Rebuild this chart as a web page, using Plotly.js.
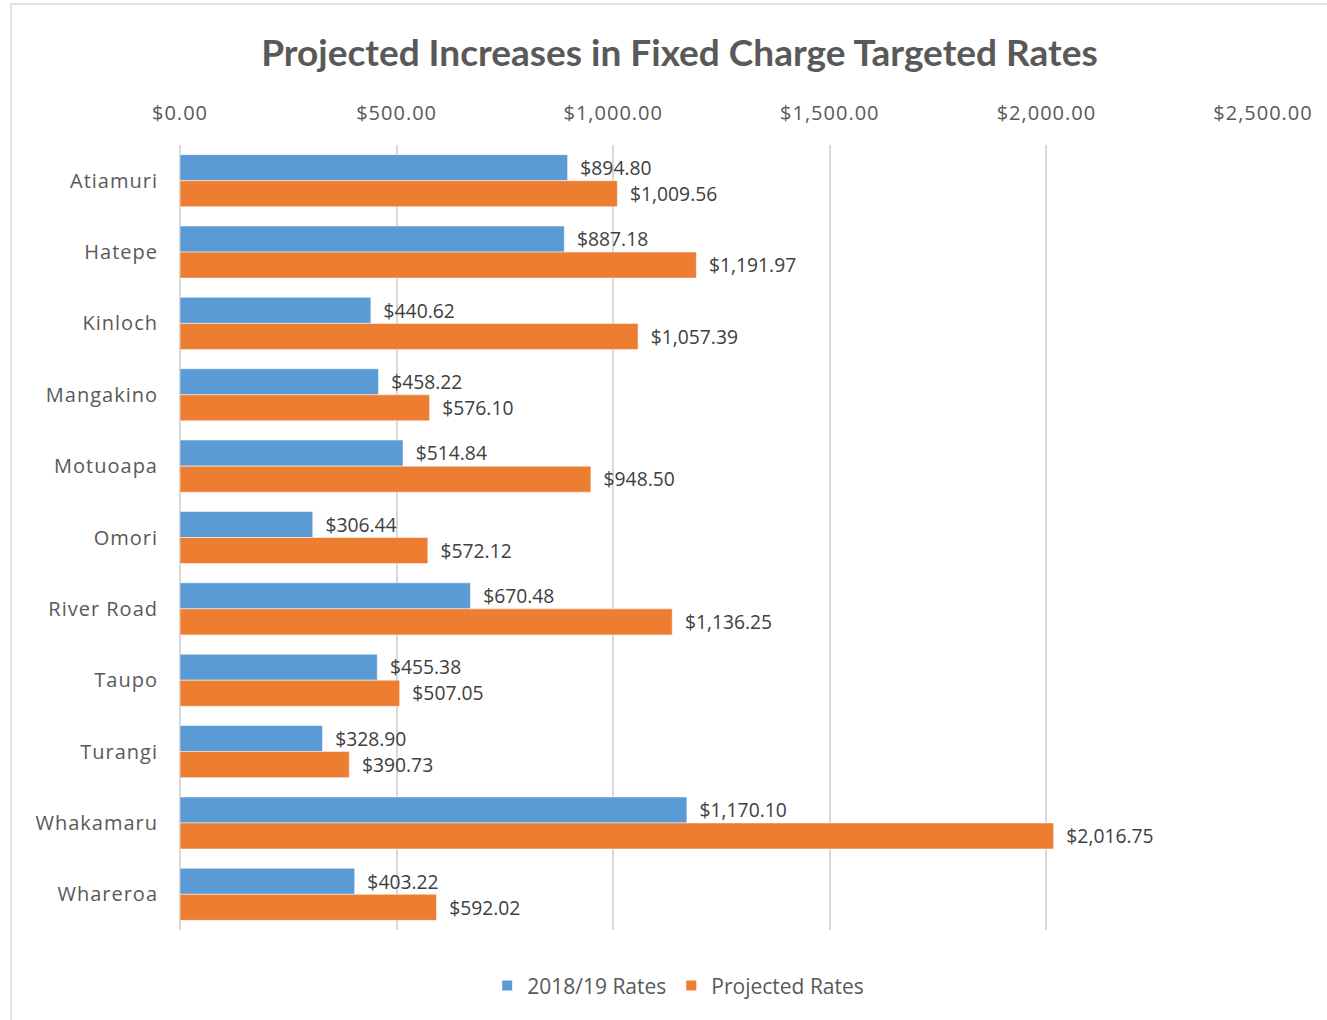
<!DOCTYPE html>
<html>
<head>
<meta charset="utf-8">
<script src="https://cdn.plot.ly/plotly-3.0.1.min.js"></script>
<style>
html,body{margin:0;padding:0;background:#fff;}
#chart{width:1327px;height:1020px;}
#chart .main-svg .xtick text, #chart .main-svg .ytick text, #chart .main-svg .textpoint text{letter-spacing:1px;}
</style>
</head>
<body>
<div id="chart"></div>
<script>
const categories = ["Atiamuri","Hatepe","Kinloch","Mangakino","Motuoapa","Omori","River Road","Taupo","Turangi","Whakamaru","Whareroa"];
const rates2018 = [894.80, 887.18, 440.62, 458.22, 514.84, 306.44, 670.48, 455.38, 328.90, 1170.10, 403.22];
const projected = [1009.56, 1191.97, 1057.39, 576.10, 948.50, 572.12, 1136.25, 507.05, 390.73, 2016.75, 592.02];
const seriesNames = ["2018/19 Rates", "Projected Rates"];
const tickValues = [0, 500, 1000, 1500, 2000, 2500];

const fmt = v => "$" + v.toLocaleString("en-US", {minimumFractionDigits: 2, maximumFractionDigits: 2});
const font = "'Open Sans', Lato, sans-serif";
const titleFont = "Lato, 'Open Sans', sans-serif";

const mk = (vals, name, color) => ({
  type: "bar", orientation: "h", y: categories, x: vals, name: name,
  marker: {color: color, line: {color: "#ffffff", width: 0.5}},
  text: vals.map(v => "\u2002" + fmt(v)), textposition: "outside", cliponaxis: false,
  textfont: {family: font, size: 20, color: "#404040"},
  hoverinfo: "x+y"
});

const data = [mk(rates2018, seriesNames[0], "#5b9bd5"), mk(projected, seriesNames[1], "#ed7d31")];

const layout = {
  width: 1327, height: 1020,
  margin: {l: 180, r: 64, t: 145, b: 90},
  paper_bgcolor: "#ffffff", plot_bgcolor: "#ffffff",
  title: {text: "<b>Projected Increases in Fixed Charge Targeted Rates</b>", x: 0.512, xanchor: "center", y: 0.948, yanchor: "middle",
          font: {family: titleFont, size: 37, color: "#595959"}},
  barmode: "group", bargap: 0.27, bargroupgap: 0,
  xaxis: {side: "top", range: [0, 2500], tickvals: tickValues, ticktext: tickValues.map(fmt),
          showgrid: true, gridcolor: "#d9d9d9", gridwidth: 2, zeroline: true, zerolinecolor: "#d9d9d9", zerolinewidth: 2,
          showline: false, ticks: "", ticklabelstandoff: 20,
          tickfont: {family: font, size: 20, color: "#595959"}, fixedrange: true},
  yaxis: {autorange: "reversed", showgrid: false, zeroline: false, showline: false, ticks: "", ticklabelstandoff: 21,
          tickfont: {family: font, size: 20, color: "#595959"}, fixedrange: true},
  showlegend: true,
  legend: {orientation: "h", x: 0.46, xanchor: "center", y: -0.071, yanchor: "middle",
           font: {family: font, size: 21, color: "#595959"}, itemsizing: "constant", itemwidth: 30, traceorder: "normal"},
  shapes: [{type: "rect", xref: "paper", yref: "paper", x0: -0.156, x1: 1.2, y0: -0.3, y1: 1.1796,
            line: {color: "#d9d9d9", width: 1.5}, fillcolor: "rgba(0,0,0,0)", layer: "below"}]
};

Plotly.newPlot("chart", data, layout, {displayModeBar: false, staticPlot: false});
</script>
</body>
</html>
